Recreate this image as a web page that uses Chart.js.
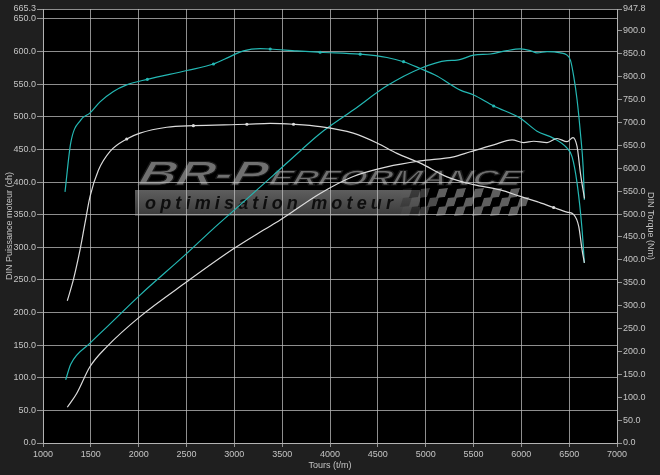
<!DOCTYPE html>
<html><head><meta charset="utf-8">
<script src="https://cdn.jsdelivr.net/npm/chart.js@4.4.1/dist/chart.umd.min.js"></script>
<style>html,body{margin:0;padding:0;background:#1f1f1f;overflow:hidden}canvas{display:block}</style>
</head><body>
<canvas id="c" width="660" height="475"></canvas>
<script>
// ---------- DATA ----------
const xTicks = [1000,1500,2000,2500,3000,3500,4000,4500,5000,5500,6000,6500,7000];
const leftTicks = [0,50,100,150,200,250,300,350,400,450,500,550,600,650,665.3];
const rightTicks = [0,50,100,150,200,250,300,350,400,450,500,550,600,650,700,750,800,850,900,947.8];

// Tuned power (ch) - cyan, left axis
const powerTunedRpm = [1230,1290,1394,1492,1596,1736,1875,2091,2503,2782,2921,3095,3270,3375,3654,3897,4316,4595,4769,4944,5118,5362,5502,5711,5990,6164,6338,6478,6530,6583,6635,6659];
const powerTuned    = [385,460,495,506,523,539,549,557.5,571,581,590,601,604.5,604,601,599,596,591,584.5,574,562.6,541,533.5,516.6,497.8,478,467,452,439,398,327,276];
const powerTunedMarks = [2091,2782,3375,3897,4316,4769,5711];

// Stock power (ch) - white, left axis
const powerStockRpm = [1254,1317,1387,1439,1492,1579,1701,1875,2014,2294,2572,3131,3375,3619,3897,4243,4491,4700,4944,5223,5502,5781,5990,6164,6338,6478,6548,6600,6635,6659];
const powerStock    = [218,250,296,337,378,418,447,466,475,484,486.5,488.6,490,488.6,485,475,460,444,429,408,396,388,378,370,361,354,350,332,296,276];
const powerStockMarks = [1875,2572,3131,3619,6338];

// Tuned torque (Nm) - cyan, right axis
const torqueTunedRpm = [1237,1290,1492,1666,2014,2503,2764,3061,3409,3700,3897,4243,4595,4944,5223,5327,5502,5677,5851,5990,6094,6164,6269,6408,6478,6513,6548,6583,6618,6646,6659];
const torqueTuned    = [138,172,218,253,323,414,465,520,585,640,676,727,780,818,835,836,847,849.5,857,860.5,857,852,854.6,852,847,836,800,749,676,603,531];

// Stock torque (Nm) - white, right axis
const torqueStockRpm = [1254,1352,1492,1666,2014,2503,2991,3305,3479,3897,4243,4595,4944,5292,5467,5711,5903,6024,6129,6269,6373,6478,6540,6583,6618,6660];
const torqueStock    = [78,108,167,210,276,352,424,465,487,545,582,603,616,625,636,651,662,656,659,656,665,658,667,647,589,534];

// ---------- HELPERS ----------
const CYAN = 'rgb(36,184,180)';
const WHITE = 'rgb(220,220,220)';
const GRID = 'rgba(190,190,190,0.75)';
const TXT = '#c4c4c4';
const FONT = 'Liberation Sans';

function pts(xs, ys){ return xs.map((x,i)=>({x:x, y:ys[i]})); }
function markRadius(marks){ return c => (c.raw && marks.indexOf(c.raw.x) >= 0) ? 1.6 : 0; }

function drawLogo(ctx){
  ctx.save();
  // grey bar
  const g = ctx.createLinearGradient(0,190,0,216);
  g.addColorStop(0,'#5e5e5e'); g.addColorStop(1,'#3a3a3a');
  ctx.fillStyle = g;
  ctx.fillRect(135,190,285,26);
  // checkered flag
  const cw = 9, ch = 9;
  for (let r = 0; r < 3; r++) {
    for (let c = 0; c < 14; c++) {
      const x0 = 400 + c*cw, y0 = 189 + r*ch;
      const fade = Math.min(1, (c+1)/5);
      ctx.fillStyle = ((r+c)%2===0) ? 'rgba(95,95,95,'+fade+')' : 'rgba(0,0,0,'+(fade*0.9)+')';
      ctx.beginPath();
      ctx.moveTo(x0+3, y0); ctx.lineTo(x0+cw+3, y0-1);
      ctx.lineTo(x0+cw, y0+ch-1); ctx.lineTo(x0, y0+ch);
      ctx.closePath(); ctx.fill();
    }
  }
  // big title
  const tg = ctx.createLinearGradient(0,160,0,186);
  tg.addColorStop(0,'#707070'); tg.addColorStop(0.5,'#4a4a4a'); tg.addColorStop(1,'#2c2c2c');
  ctx.fillStyle = tg;
  ctx.strokeStyle = '#1a1a1a';
  ctx.lineWidth = 1;
  ctx.textBaseline = 'alphabetic';
  ctx.font = 'italic bold 34px "'+FONT+'"';
  let w = ctx.measureText('BR-P').width;
  ctx.save(); ctx.translate(137,185); ctx.transform(1,0,-0.25,1,0,0); ctx.scale(128/w,1);
  ctx.fillText('BR-P',0,0); ctx.strokeText('BR-P',0,0); ctx.restore();
  ctx.font = 'italic bold 21px "'+FONT+'"';
  w = ctx.measureText('ERFORMANCE').width;
  ctx.save(); ctx.translate(268,185); ctx.transform(1,0,-0.25,1,0,0); ctx.scale(252/w,1);
  ctx.fillText('ERFORMANCE',0,0); ctx.strokeText('ERFORMANCE',0,0); ctx.restore();
  // subtitle
  const sub = 'optimisation moteur';
  ctx.font = 'italic bold 18px "'+FONT+'"';
  ctx.fillStyle = '#0e0e0e';
  const widths = sub.split('').map(s=>ctx.measureText(s).width);
  const tot = widths.reduce((a,b)=>a+b,0);
  const sp = (248 - tot)/(sub.length-1);
  let x = 145;
  for (let i=0;i<sub.length;i++){ ctx.fillText(sub[i], x, 209); x += widths[i] + sp; }
  ctx.restore();
}

const bgPlugin = {
  id: 'bg',
  beforeDraw(chart){
    const {ctx, chartArea:a} = chart;
    ctx.save();
    ctx.fillStyle = '#1f1f1f';
    ctx.fillRect(0,0,chart.width,chart.height);
    ctx.fillStyle = '#000';
    ctx.fillRect(a.left,a.top,a.right-a.left,a.bottom-a.top);
    ctx.restore();
    drawLogo(ctx);
  }
};

const lineDs = (label, xs, ys, color, axis, marks) => ({
  label, data: pts(xs, ys), borderColor: color, backgroundColor: color,
  borderWidth: 1.2, yAxisID: axis, cubicInterpolationMode: 'monotone',
  pointRadius: marks ? markRadius(marks) : 0, pointBorderWidth: 0, fill: false
});

new Chart(document.getElementById('c'), {
  type: 'line',
  data: { datasets: [
    lineDs('Puissance origine', powerStockRpm, powerStock, WHITE, 'y', powerStockMarks),
    lineDs('Couple origine', torqueStockRpm, torqueStock, WHITE, 'y2', null),
    lineDs('Puissance BR', powerTunedRpm, powerTuned, CYAN, 'y', powerTunedMarks),
    lineDs('Couple BR', torqueTunedRpm, torqueTuned, CYAN, 'y2', null)
  ]},
  options: {
    responsive: false, animation: false, devicePixelRatio: 1,
    layout: { padding: { top: 9, left: 0, right: 0, bottom: 0 } },
    plugins: { legend: { display: false }, tooltip: { enabled: false } },
    scales: {
      x: {
        type: 'linear', min: 1000, max: 7000,
        afterBuildTicks: s => { s.ticks = xTicks.map(v=>({value:v})); },
        afterFit: s => { s.height = 32; },
        grid: { color: GRID, lineWidth: 1, tickLength: 4, tickColor: GRID },
        border: { color: GRID },
        ticks: { color: TXT, font: { family: FONT, size: 9 }, padding: 2, maxRotation: 0, callback: v => String(v) },
        title: { display: true, text: 'Tours (t/m)', color: TXT, font: { family: FONT, size: 9 }, padding: { top: 0, bottom: 4 } }
      },
      y: {
        type: 'linear', position: 'left', min: 0, max: 665.3,
        afterBuildTicks: s => { s.ticks = leftTicks.map(v=>({value:v})); },
        afterFit: s => { s.width = 43; },
        grid: { color: GRID, lineWidth: 1, tickLength: 6, tickColor: GRID },
        border: { color: GRID },
        ticks: { color: TXT, font: { family: FONT, size: 9 }, padding: 1, callback: v => Number(v).toFixed(1) },
        title: { display: true, text: 'DIN Puissance moteur (ch)', color: TXT, font: { family: FONT, size: 9 }, padding: { top: 4, bottom: 0 } }
      },
      y2: {
        type: 'linear', position: 'right', min: 0, max: 947.8,
        afterBuildTicks: s => { s.ticks = rightTicks.map(v=>({value:v})); },
        afterFit: s => { s.width = 43; },
        grid: { drawOnChartArea: false, tickLength: 5, tickColor: GRID, color: GRID },
        border: { color: GRID },
        ticks: { color: TXT, font: { family: FONT, size: 9 }, padding: 1, callback: v => Number(v).toFixed(1) },
        title: { display: true, text: 'DIN Torque (Nm)', color: TXT, font: { family: FONT, size: 9 }, padding: { top: 4, bottom: 0 } }
      }
    }
  },
  plugins: [bgPlugin]
});
</script>
</body></html>
